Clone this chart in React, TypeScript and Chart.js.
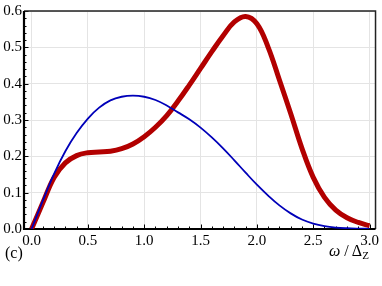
import React, { useEffect, useRef } from "react";
import { Chart, registerables } from "chart.js";

Chart.register(...registerables);

const omega = [0, 0.1, 0.2, 0.3, 0.4, 0.5, 0.6, 0.7, 0.8, 0.9, 1.0, 1.1, 1.2, 1.3, 1.4, 1.5, 1.6, 1.7, 1.8, 1.9, 2.0, 2.1, 2.2, 2.3, 2.4, 2.5, 2.6, 2.7, 2.8, 2.9, 3.0];

const redSeries = [0, 0.072, 0.142, 0.182, 0.202, 0.21, 0.212, 0.214, 0.221, 0.234, 0.254, 0.28, 0.312, 0.352, 0.396, 0.442, 0.488, 0.532, 0.57, 0.585, 0.565, 0.5, 0.41, 0.318, 0.222, 0.142, 0.087, 0.052, 0.031, 0.018, 0.009];

const blueSeries = [0, 0.078, 0.152, 0.214, 0.264, 0.304, 0.334, 0.354, 0.364, 0.367, 0.364, 0.355, 0.34, 0.321, 0.302, 0.279, 0.252, 0.222, 0.189, 0.155, 0.122, 0.092, 0.065, 0.043, 0.026, 0.015, 0.008, 0.004, 0.002, 0.001, 0.0005];

const xTickValues = [0, 0.5, 1.0, 1.5, 2.0, 2.5, 3.0];
const yTickValues = [0, 0.1, 0.2, 0.3, 0.4, 0.5, 0.6];

const FONT = "'Liberation Serif', 'Times New Roman', serif";

const framePlugin = {
  id: "frameTicks",
  beforeDatasetsDraw(chart: any) {
    const { ctx, chartArea, scales } = chart;
    const { left, right, top, bottom } = chartArea;
    const xs = scales.x;
    const ys = scales.y;
    ctx.save();
    ctx.strokeStyle = "#000";
    ctx.lineWidth = 1;
    for (let i = 0; i <= 30; i++) {
      const v = i / 10;
      const px = Math.round(xs.getPixelForValue(v)) + 0.5;
      const len = i % 5 === 0 ? 4.5 : 2.5;
      ctx.beginPath();
      ctx.moveTo(px, bottom);
      ctx.lineTo(px, bottom - len);
      ctx.stroke();
    }
    for (let i = 0; i <= 30; i++) {
      const v = i / 50;
      const py = Math.round(ys.getPixelForValue(v)) + 0.5;
      const len = i % 5 === 0 ? 4.5 : 2.5;
      ctx.beginPath();
      ctx.moveTo(left, py);
      ctx.lineTo(left + len, py);
      ctx.stroke();
    }
    ctx.lineWidth = 1.5;
    ctx.strokeStyle = "#222";
    ctx.beginPath();
    ctx.moveTo(left, top);
    ctx.lineTo(right, top);
    ctx.lineTo(right, bottom);
    ctx.stroke();
    ctx.lineWidth = 2.2;
    ctx.strokeStyle = "#000";
    ctx.beginPath();
    ctx.moveTo(left, top);
    ctx.lineTo(left, bottom);
    ctx.lineTo(right, bottom);
    ctx.stroke();
    ctx.restore();
  },
};

export default function App() {
  const ref = useRef<HTMLCanvasElement | null>(null);

  useEffect(() => {
    if (!ref.current) return;
    const chart = new Chart(ref.current, {
      type: "line",
      data: {
        datasets: [
          {
            data: omega.map((x, i) => ({ x, y: blueSeries[i] })),
            borderColor: "rgb(0,0,185)",
            borderWidth: 1.8,
            pointRadius: 0,
            tension: 0.4,
            fill: false,
          },
          {
            data: omega.map((x, i) => ({ x, y: redSeries[i] })),
            borderColor: "rgb(178,0,0)",
            borderWidth: 5,
            pointRadius: 0,
            tension: 0.4,
            fill: false,
          },
        ],
      },
      options: {
        responsive: false,
        animation: false,
        devicePixelRatio: 1,
        layout: { padding: { top: 11, right: 4, left: 0, bottom: 0 } },
        plugins: { legend: { display: false }, tooltip: { enabled: false } },
        scales: {
          x: {
            type: "linear",
            min: -0.067,
            max: 3.053,
            afterBuildTicks: (s: any) => {
              s.ticks = xTickValues.map((v) => ({ value: v }));
            },
            afterFit: (s: any) => {
              s.height = 57;
            },
            grid: { color: "#e4e4e4", lineWidth: 1, drawTicks: false },
            border: { display: false },
            ticks: {
              padding: 3,
              color: "#000",
              font: { family: FONT, size: 15 },
              maxRotation: 0,
              autoSkip: false,
              callback: (v: any) => Number(v).toFixed(1),
            },
          },
          y: {
            type: "linear",
            min: 0,
            max: 0.6,
            afterBuildTicks: (s: any) => {
              s.ticks = yTickValues.map((v) => ({ value: v }));
            },
            afterFit: (s: any) => {
              s.width = 24;
            },
            grid: { color: "#e4e4e4", lineWidth: 1, drawTicks: false },
            border: { display: false },
            ticks: {
              padding: 2,
              color: "#000",
              font: { family: FONT, size: 15 },
              autoSkip: false,
              callback: (v: any) => Number(v).toFixed(1),
            },
          },
        },
      },
      plugins: [framePlugin],
    } as any);
    return () => chart.destroy();
  }, []);

  return (
    <div style={{ position: "absolute", left: 0, top: 0, width: 382, height: 286, background: "#fff" }}>
      <canvas ref={ref} width={382} height={286} style={{ width: 382, height: 286, display: "block" }} />
      <span
        style={{
          position: "absolute",
          left: 5,
          top: 245,
          fontFamily: FONT,
          fontSize: 16,
          lineHeight: "16px",
          color: "#000",
        }}
      >
        (c)
      </span>
      <span
        style={{
          position: "absolute",
          left: 329,
          top: 243,
          fontFamily: FONT,
          fontSize: 16,
          lineHeight: "16px",
          color: "#000",
          whiteSpace: "nowrap",
        }}
      >
        <i>ω</i> / Δ<sub style={{ fontSize: 11, verticalAlign: "-3px" }}>Z</sub>
      </span>
    </div>
  );
}
